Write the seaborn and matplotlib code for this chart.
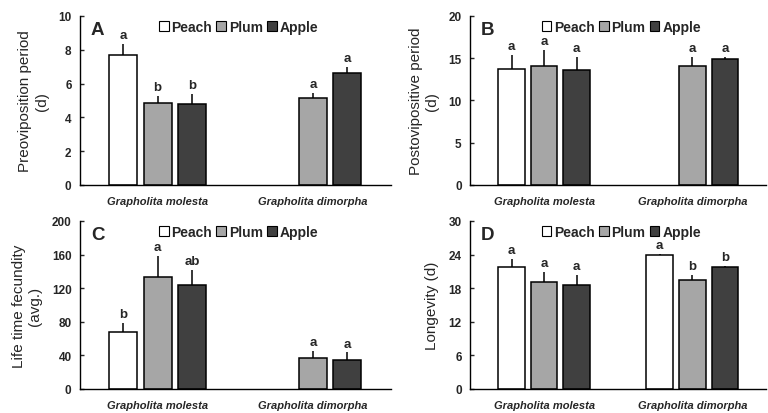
import numpy as np
import pandas as pd
import matplotlib
matplotlib.use("Agg")
import matplotlib.pyplot as plt
from matplotlib.patches import Patch
import seaborn as sns

species = ["Grapholita molesta", "Grapholita dimorpha"]
hosts = ["Peach", "Plum", "Apple"]
colors = {"Peach": "#ffffff", "Plum": "#a6a6a6", "Apple": "#404040"}

# values per host: [molesta, dimorpha]  (NaN = no data)
pre_mean = {"Peach": [7.70, np.nan], "Plum": [4.84, 5.14], "Apple": [4.78, 6.63]}
pre_err = {"Peach": [0.67, np.nan], "Plum": [0.44, 0.29], "Apple": [0.59, 0.36]}
pre_let = {"Peach": ["a", ""], "Plum": ["b", "a"], "Apple": ["b", "a"]}

post_mean = {"Peach": [13.78, np.nan], "Plum": [14.09, 14.09], "Apple": [13.58, 14.88]}
post_err = {"Peach": [1.57, np.nan], "Plum": [1.85, 1.11], "Apple": [1.62, 0.32]}
post_let = {"Peach": ["a", ""], "Plum": ["a", "a"], "Apple": ["a", "a"]}

fec_mean = {"Peach": [67.3, np.nan], "Plum": [133.5, 37.2], "Apple": [123.2, 34.9]}
fec_err = {"Peach": [11.1, np.nan], "Plum": [24.9, 8.3], "Apple": [18.6, 8.7]}
fec_let = {"Peach": ["b", ""], "Plum": ["a", "a"], "Apple": ["ab", "a"]}

lon_mean = {"Peach": [21.7, 24.0], "Plum": [19.1, 19.4], "Apple": [18.5, 21.7]}
lon_err = {"Peach": [1.5, 0.1], "Plum": [1.8, 1.0], "Apple": [1.9, 0.3]}
lon_let = {"Peach": ["a", "a"], "Plum": ["a", "b"], "Apple": ["a", "b"]}

panels = [
    ("A", "Preoviposition period\n(d)", pre_mean, pre_err, pre_let, 10, [0, 2, 4, 6, 8, 10]),
    ("B", "Postovipositive period\n(d)", post_mean, post_err, post_let, 20, [0, 5, 10, 15, 20]),
    ("C", "Life time fecundity\n(avg.)", fec_mean, fec_err, fec_let, 200, [0, 40, 80, 120, 160, 200]),
    ("D", "Longevity (d)", lon_mean, lon_err, lon_let, 30, [0, 6, 12, 18, 24, 30]),
]

sns.set_style("ticks")
plt.rcParams["font.family"] = ["Liberation Sans", "DejaVu Sans"]

fig = plt.figure(figsize=(7.68, 4.14), dpi=100)
rects = [
    [0.104, 0.551, 0.405, 0.408],
    [0.612, 0.551, 0.386, 0.408],
    [0.104, 0.058, 0.405, 0.406],
    [0.612, 0.058, 0.386, 0.406],
]

for rect, (letter, ylabel, mean, err, lets, ymax, yticks) in zip(rects, panels):
    ax = fig.add_axes(rect)
    rows = []
    for h in hosts:
        for i, s in enumerate(species):
            rows.append({"species": s, "host": h, "value": mean[h][i]})
    df = pd.DataFrame(rows)
    sns.barplot(data=df, x="species", y="value", hue="host", order=species,
                hue_order=hosts, palette=colors, errorbar=None, width=0.66,
                gap=0.18, edgecolor="black", linewidth=1.1, ax=ax, legend=False,
                saturation=1)
    for h, cont in zip(hosts, ax.containers):
        for bar in cont:
            hgt = bar.get_height()
            if not np.isfinite(hgt) or hgt == 0:
                continue
            xc = bar.get_x() + bar.get_width() / 2
            i = int(round(xc))
            e = err[h][i]
            ax.errorbar(xc, hgt, yerr=[[0], [e]], fmt="none", ecolor="black",
                        elinewidth=1.1, capsize=0, zorder=1)
            ax.annotate(lets[h][i], (xc, hgt + e), xytext=(0, 2),
                        textcoords="offset points", ha="center", va="bottom",
                        fontsize=9.5, fontweight="bold")
    ax.set_xlim(-0.5, 1.5)
    ax.set_ylim(0, ymax)
    ax.set_yticks(yticks)
    ax.set_yticklabels([str(t) for t in yticks], fontsize=8.5, fontweight="bold")
    ax.set_xticks([0, 1])
    ax.set_xticklabels(species, fontsize=8, fontweight="bold", fontstyle="italic")
    ax.tick_params(axis="x", length=0, pad=8)
    ax.tick_params(axis="y", direction="in", length=3, width=1, pad=6)
    ax.set_xlabel("")
    ax.set_ylabel(ylabel, fontsize=11, labelpad=7)
    for sp in ["top", "right"]:
        ax.spines[sp].set_visible(False)
    for sp in ["left", "bottom"]:
        ax.spines[sp].set_linewidth(1.0)
        ax.spines[sp].set_color("black")
    ax.text(0.035, 0.97, letter, transform=ax.transAxes, fontsize=13.5,
            fontweight="bold", va="top", ha="left")
    handles = [Patch(facecolor=colors[h], edgecolor="black", linewidth=0.8, label=h)
               for h in hosts]
    ax.legend(handles=handles, loc="upper center", bbox_to_anchor=(0.51, 1.035),
              ncol=3, frameon=False, handlelength=0.7, handleheight=0.7,
              handletextpad=0.2, columnspacing=0.3, borderaxespad=0.3,
              prop={"size": 10, "weight": "bold"})

fig.savefig("out.png", dpi=100)
